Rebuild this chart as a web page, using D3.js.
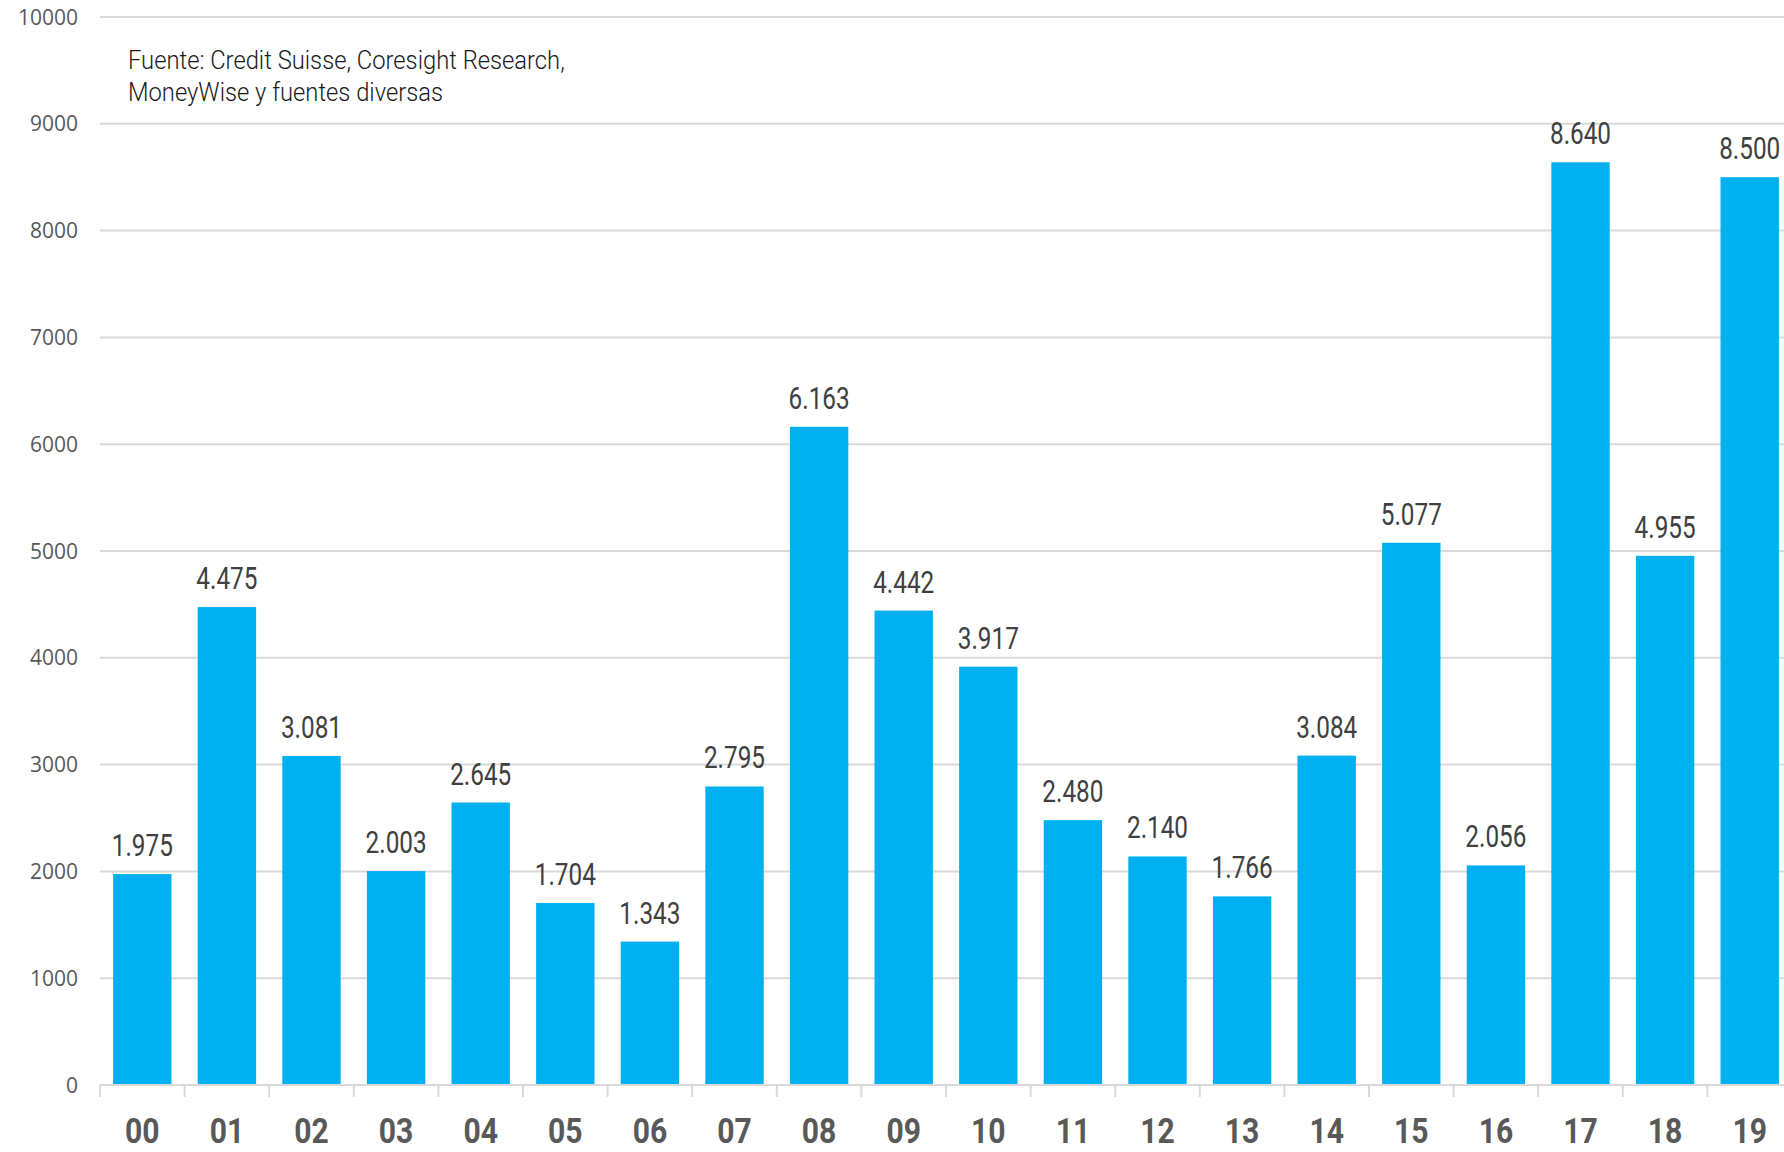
<!DOCTYPE html>
<html>
<head>
<meta charset="utf-8">
<script src="https://cdn.jsdelivr.net/npm/d3@7/dist/d3.min.js"></script>
<style>
  html, body { margin: 0; padding: 0; background: #ffffff; }
  svg { display: block; }
</style>
</head>
<body>
<svg id="chart" width="1784" height="1152"></svg>
<script>
const categories = ["00","01","02","03","04","05","06","07","08","09","10","11","12","13","14","15","16","17","18","19"];
const values = [1975, 4475, 3081, 2003, 2645, 1704, 1343, 2795, 6163, 4442, 3917, 2480, 2140, 1766, 3084, 5077, 2056, 8640, 4955, 8500];
const valueLabels = ["1.975","4.475","3.081","2.003","2.645","1.704","1.343","2.795","6.163","4.442","3.917","2.480","2.140","1.766","3.084","5.077","2.056","8.640","4.955","8.500"];
const yTicks = [0,1000,2000,3000,4000,5000,6000,7000,8000,9000,10000];
const sourceLines = ["Fuente: Credit Suisse, Coresight Research,", "MoneyWise y fuentes diversas"];

(function() {
const W = 1784;
const mLeft = 100, rangeRight = 1792, mTop = 17, mBottom = 1085;

const svg = d3.select("#chart");

const outer = 0.155;
const x = d3.scaleBand().domain(categories).range([mLeft, rangeRight]).paddingInner(0.31).paddingOuter(outer);
const y = d3.scaleLinear().domain([0, 10000]).range([mBottom, mTop]);
const step = x.step();

// gridlines
svg.append("g").selectAll("line").data(yTicks.filter(d => d > 0)).join("line")
  .attr("x1", mLeft).attr("x2", W)
  .attr("y1", d => y(d)).attr("y2", d => y(d))
  .attr("stroke", "#d9d9d9").attr("stroke-width", 2);

// y labels
svg.append("g").selectAll("text").data(yTicks).join("text")
  .attr("x", 78).attr("y", d => y(d)).attr("dy", "0.36em")
  .attr("text-anchor", "end")
  .attr("font-family", "'Open Sans', 'Noto Sans', sans-serif")
  .attr("font-size", 21).attr("fill", "#595959")
  .text(d => d);

// bars
svg.append("g").selectAll("rect").data(values).join("rect")
  .attr("x", (d, i) => x(categories[i]))
  .attr("width", x.bandwidth())
  .attr("y", d => y(d))
  .attr("height", d => y(0) - y(d))
  .attr("fill", "#00B0F0");

// x axis line and ticks (at band boundaries)
svg.append("line").attr("x1", mLeft).attr("x2", W).attr("y1", mBottom).attr("y2", mBottom)
  .attr("stroke", "#d9d9d9").attr("stroke-width", 2);
svg.append("g").selectAll("line").data(categories).join("line")
  .attr("x1", d => x(d) - step * outer)
  .attr("x2", d => x(d) - step * outer)
  .attr("y1", mBottom).attr("y2", mBottom + 12)
  .attr("stroke", "#d9d9d9").attr("stroke-width", 2);

function condense(sel, sx) {
  sel.each(function() {
    const t = d3.select(this);
    const cx = +t.attr("x"), cy = +t.attr("y");
    t.attr("transform", `translate(${cx},${cy}) scale(${sx},1) translate(${-cx},${-cy})`);
  });
}

// x labels
svg.append("g").selectAll("text").data(categories).join("text")
  .attr("x", d => x(d) + x.bandwidth() / 2)
  .attr("y", 1143)
  .attr("text-anchor", "middle")
  .attr("font-family", "Roboto, sans-serif")
  .attr("font-weight", 700)
  .attr("font-size", 35).attr("fill", "#595959")
  .text(d => d)
  .call(condense, 0.86);

// value labels
svg.append("g").selectAll("text").data(values).join("text")
  .attr("x", (d, i) => x(categories[i]) + x.bandwidth() / 2)
  .attr("y", d => y(d) - 18)
  .attr("text-anchor", "middle")
  .attr("font-family", "Roboto, sans-serif")
  .attr("font-weight", 400)
  .attr("font-size", 32).attr("fill", "#404040")
  .text((d, i) => valueLabels[i])
  .call(condense, 0.76);

// source note
const src = svg.append("g");
const srcTexts = src.selectAll("text").data(sourceLines).join("text")
  .attr("x", 128).attr("y", (d, i) => 69 + i * 32)
  .attr("font-family", "Roboto, sans-serif")
  .attr("font-weight", 300)
  .attr("font-size", 25).attr("fill", "#1a1a1a")
  .text(d => d);
const w0 = srcTexts.nodes()[0].getComputedTextLength() || 437;
const sxSrc = 437 / w0;
srcTexts.call(condense, sxSrc);
})();
</script>
</body>
</html>
